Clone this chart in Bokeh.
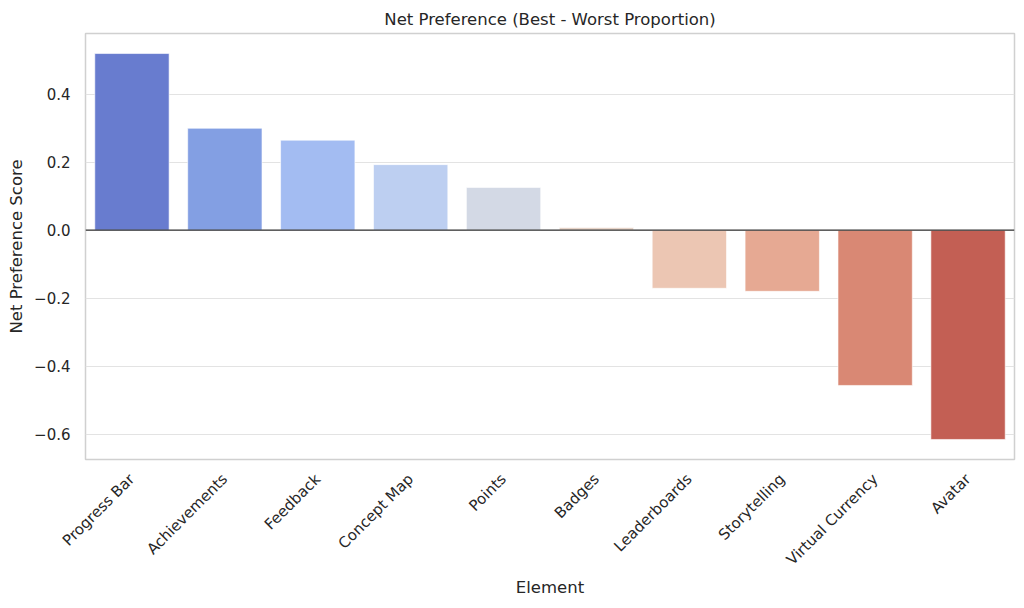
from bokeh.plotting import figure
from bokeh.models import FactorRange, Range1d, FixedTicker, CustomJSTickFormatter, Span, ColumnDataSource
from bokeh.embed import file_html
from bokeh.resources import INLINE
import math

elements = ["Progress Bar", "Achievements", "Feedback", "Concept Map", "Points",
            "Badges", "Leaderboards", "Storytelling", "Virtual Currency", "Avatar"]
scores = [0.520, 0.300, 0.265, 0.193, 0.126, 0.008, -0.171, -0.180, -0.457, -0.616]
colors = ["#687ccf", "#839fe3", "#a3bcf2", "#bdcff1", "#d3d9e5",
          "#e8d5c9", "#ecc6b3", "#e6a993", "#d98874", "#c35f54"]
y_ticks = [-0.6, -0.4, -0.2, 0.0, 0.2, 0.4]

FONT = "DejaVu Sans"
TXT = "#262626"

src = ColumnDataSource(dict(el=elements, score=scores, color=colors))

p = figure(width=1016, height=600, output_backend="svg", toolbar_location=None,
           x_range=FactorRange(*elements, range_padding=0),
           y_range=Range1d(-0.675, 0.579),
           min_border_left=85, min_border_right=2, min_border_top=33, min_border_bottom=141)

p.vbar(x="el", top="score", bottom=0, width=0.8, source=src,
       fill_color="color", line_color="white", line_alpha=0.6, line_width=1)

p.add_layout(Span(location=0, dimension="width", line_color="#333333", line_width=1.3))

p.title.text = "Net Preference (Best - Worst Proportion)"
p.title.align = "center"
p.title.text_font = FONT
p.title.text_font_size = "16.5px"
p.title.text_font_style = "normal"
p.title.text_color = TXT
p.title.offset = 0

p.outline_line_color = "#d0d0d0"
p.outline_line_width = 1.5
p.background_fill_color = "white"
p.border_fill_color = "white"

p.xgrid.grid_line_color = None
p.ygrid.grid_line_color = "#e3e3e3"
p.ygrid.grid_line_width = 1.2
p.yaxis.ticker = FixedTicker(ticks=y_ticks)
p.yaxis.formatter = CustomJSTickFormatter(code="return (tick < -1e-9 ? '\\u2212' : '') + Math.abs(tick).toFixed(1);")

for ax in (p.xaxis, p.yaxis):
    ax.axis_line_color = None
    ax.major_tick_line_color = None
    ax.minor_tick_line_color = None
    ax.major_label_text_font = FONT
    ax.major_label_text_font_size = "15px"
    ax.major_label_text_color = TXT
    ax.axis_label_text_font = FONT
    ax.axis_label_text_font_size = "16.5px"
    ax.axis_label_text_font_style = "normal"
    ax.axis_label_text_color = TXT

p.yaxis.major_label_standoff = 9
p.xaxis.major_label_standoff = 11
p.xaxis.axis_label_standoff = 0
p.xaxis.major_label_orientation = math.pi / 4
p.xaxis.major_label_text_baseline = "bottom"
p.xaxis.axis_label = "Element"
p.yaxis.axis_label = "Net Preference Score"

open("out.html", "w").write(file_html(p, INLINE))
